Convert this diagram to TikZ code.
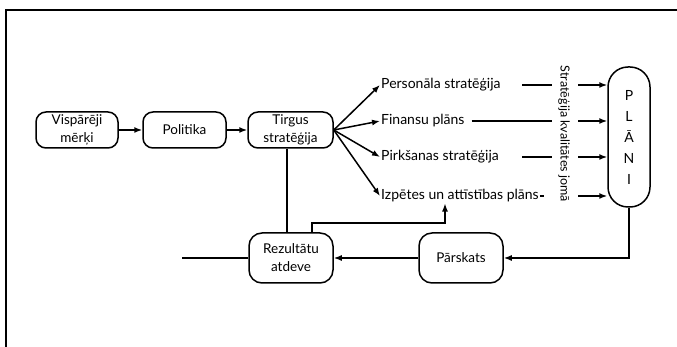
\documentclass[tikz,border=0pt]{standalone}
\usepackage{fontspec}
\setmainfont{Lato}
\usetikzlibrary{arrows.meta}
\begin{document}
\begin{tikzpicture}[x=1pt,y=-1pt,
  box/.style={draw, line width=1.5pt, rounded corners=10pt, align=center, inner sep=0pt,
    font=\fontsize{13.5}{18}\selectfont},
  lbl/.style={anchor=west, inner sep=1pt, font=\fontsize{14}{16}\selectfont},
  arr/.style={-{Latex[length=8pt,width=6pt]}, line width=1.5pt},
  ln/.style={line width=1.5pt}]
\useasboundingbox (0,0) rectangle (677,347);
% frame
\draw[line width=1.6pt] (677,10) -- (6,10) -- (6,347);
% boxes
\node[box, minimum width=82pt, minimum height=36pt] (vm) at (77,130) {Vispārēji\\mērķi};
\node[box, minimum width=83pt, minimum height=36pt] (pol) at (184.5,130) {Politika};
\node[box, minimum width=85pt, minimum height=36pt] (tir) at (290.5,130) {Tirgus\\stratēģija};
\node[box, rounded corners=13pt, minimum width=84pt, minimum height=50pt] (rez) at (291,258) {Rezultātu\\atdeve};
\node[box, rounded corners=13pt, minimum width=84pt, minimum height=50pt] (par) at (461,258) {Pārskats};
\node[box, rounded corners=20pt, minimum width=42pt, minimum height=140pt,
  font=\fontsize{14}{21}\selectfont] (pl) at (629,137) {P\\L\\Ā\\N\\I};
% labels
\node[lbl] (ps) at (380,85) {Personāla stratēģija};
\node[lbl] (fp) at (380,121) {Finansu plāns};
\node[lbl] (pk) at (380,157) {Pirkšanas stratēģija};
\node[lbl] (iz) at (380,196) {Izpētes un attīstības plāns};
\node[rotate=-90, inner sep=0pt, font=\fontsize{12.5}{14}\selectfont] (kv) at (564,134) {Stratēģija kvalitātes jomā};
% top chain
\draw[arr] (vm) -- (pol);
\draw[arr] (pol) -- (tir);
\foreach \t in {ps,fp,pk,iz} \draw[arr] (tir.east) -- (\t.west);
% lines after labels
\coordinate (l1) at (522,85); \coordinate (r1) at (552,85);
\coordinate (l2) at (fp.east); \coordinate (r2) at (552,121);
\coordinate (l3) at (522,157); \coordinate (r3) at (552,157);
\coordinate (l4) at (iz.east); \coordinate (r4) at (544,196);
\draw[ln] (l1) -- (r1);
\draw[ln] ([xshift=6pt]l2) -- (r2);
\draw[ln] (l3) -- (r3);
\draw[ln] (l4) -- (r4);
\foreach \y in {85,121,157,196} {
  \coordinate (a) at (578,\y);
  \draw[arr] (a) -- (pl.west |- a);
}
% bottom loop
\draw[arr] (pl.south) |- (par.east);
\draw[arr] (par.west) -- (rez.east);
\coordinate (lend) at (182,258);
\draw[ln] (rez.west) -- (lend);
\coordinate (tv) at (287,148);
\draw[line width=1.1pt] (tv |- tir.south) -- (tv |- rez.north);
\coordinate (f1) at (312,223);
\coordinate (f2) at (445,223);
\draw[arr, line width=1.2pt] (f1 |- rez.north) -- (f1) -- (f2) -- (f2 |- iz.south);
\end{tikzpicture}
\end{document}
